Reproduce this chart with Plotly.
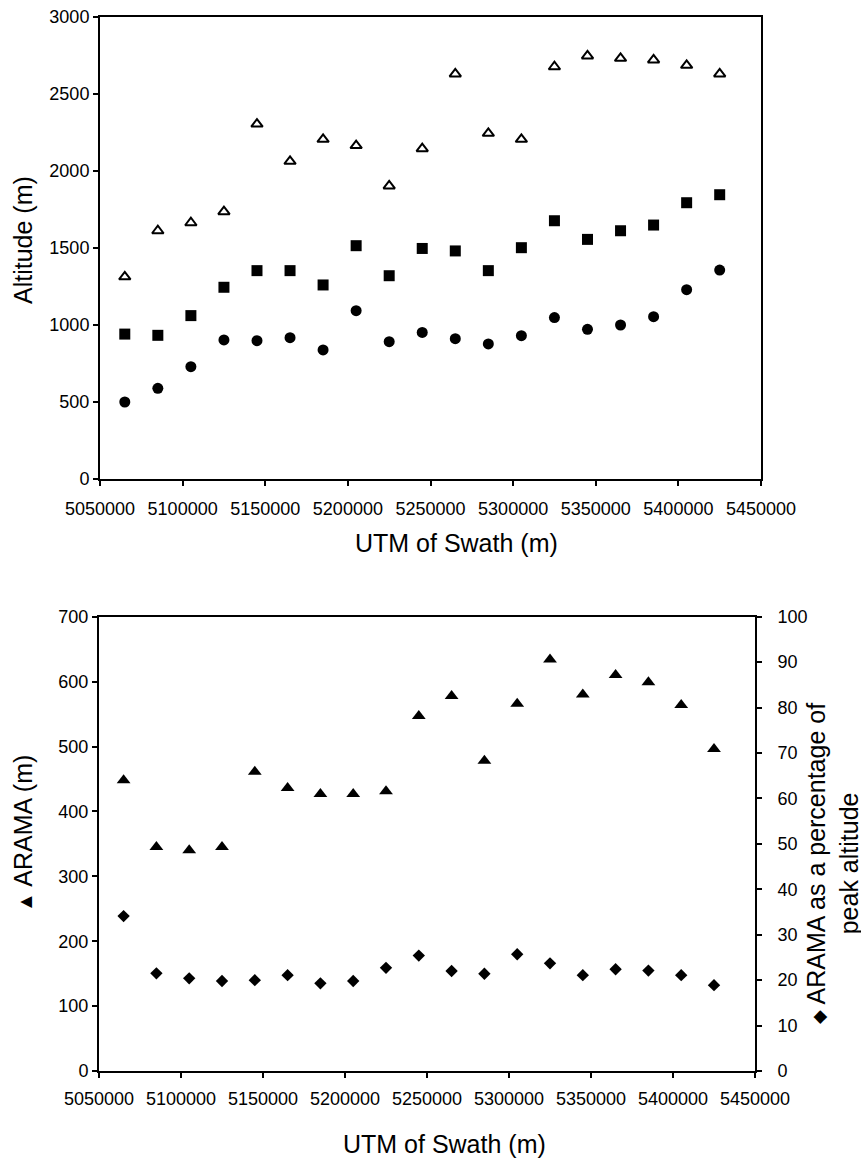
import plotly.graph_objects as go

# Swath centre positions (UTM northing, m)
utm = [5065000, 5085000, 5105000, 5125000, 5145000, 5165000, 5185000,
       5205000, 5225000, 5245000, 5265000, 5285000, 5305000, 5325000,
       5345000, 5365000, 5385000, 5405000, 5425000]

# Altitudes per swath (m)
peak_alt = [1313, 1612, 1664, 1736, 2305, 2063, 2206, 2165, 1903, 2145,
            2630, 2245, 2206, 2677, 2747, 2732, 2721, 2686, 2630]
mean_alt = [941, 933, 1061, 1245, 1353, 1353, 1260, 1515, 1320, 1497,
            1481, 1353, 1502, 1677, 1556, 1612, 1649, 1794, 1846]
min_alt = [500, 589, 729, 903, 898, 918, 838, 1093, 892, 952,
           911, 877, 931, 1048, 972, 1000, 1054, 1229, 1357]

# ARAMA (m) and ARAMA as % of peak altitude
arama = [448, 345, 340, 345, 461, 436, 427, 427, 431, 547,
         578, 478, 566, 634, 580, 610, 599, 564, 496]
arama_pct = [34.1, 21.5, 20.4, 19.8, 20.0, 21.1, 19.3, 19.8, 22.7, 25.4,
             22.0, 21.4, 25.7, 23.7, 21.1, 22.4, 22.1, 21.1, 18.9]

x_ticks = [5050000, 5100000, 5150000, 5200000, 5250000,
           5300000, 5350000, 5400000, 5450000]

W, H = 861, 1159
FONT = "Liberation Sans, Arial, Helvetica, sans-serif"
BLACK = "#000000"


def px_x(p):
    return p / W


def px_y(p):
    return 1 - p / H


fig = go.Figure()

# Upper panel: altitudes
fig.add_trace(go.Scatter(x=utm, y=peak_alt, mode="markers", xaxis="x", yaxis="y",
                         marker=dict(symbol="triangle-up-open", size=10, color=BLACK,
                                     line=dict(width=2, color=BLACK))))
fig.add_trace(go.Scatter(x=utm, y=mean_alt, mode="markers", xaxis="x", yaxis="y",
                         marker=dict(symbol="square", size=11, color=BLACK, line=dict(width=0))))
fig.add_trace(go.Scatter(x=utm, y=min_alt, mode="markers", xaxis="x", yaxis="y",
                         marker=dict(symbol="circle", size=11, color=BLACK, line=dict(width=0))))

# Lower panel: ARAMA and relative ARAMA
fig.add_trace(go.Scatter(x=utm, y=arama, mode="markers", xaxis="x2", yaxis="y2",
                         marker=dict(symbol="triangle-up", size=12, color=BLACK, line=dict(width=0))))
fig.add_trace(go.Scatter(x=utm, y=arama_pct, mode="markers", xaxis="x2", yaxis="y3",
                         marker=dict(symbol="diamond", size=9.5, color=BLACK, line=dict(width=0))))

tickfont = dict(family=FONT, size=18, color=BLACK)
axis_common = dict(showgrid=False, zeroline=False, showline=True, linecolor=BLACK,
                   linewidth=2, ticks="outside", ticklen=5, tickwidth=2,
                   tickcolor=BLACK, tickfont=tickfont, automargin=False)

fig.update_layout(
    width=W, height=H,
    margin=dict(l=0, r=0, t=0, b=0, autoexpand=False),
    paper_bgcolor="white", plot_bgcolor="white",
    showlegend=False,
    font=dict(family=FONT, color=BLACK),
    xaxis=dict(domain=[px_x(100), px_x(761)], anchor="y", range=[5050000, 5450000],
               tickvals=x_ticks, tickformat="d", mirror=True, ticklabelstandoff=7,
               **axis_common),
    yaxis=dict(domain=[px_y(479), px_y(17)], anchor="x", range=[0, 3000],
               dtick=500, mirror=True, **axis_common),
    xaxis2=dict(domain=[px_x(99), px_x(755)], anchor="y2", range=[5050000, 5450000],
                tickvals=x_ticks, tickformat="d", mirror=True, ticklabelstandoff=5,
                **axis_common),
    yaxis2=dict(domain=[px_y(1071), px_y(616.7)], anchor="x2", range=[0, 700],
                dtick=100, **axis_common),
    yaxis3=dict(anchor="x2", overlaying="y2", side="right", range=[0, 100],
                dtick=10, ticklabelstandoff=12, **axis_common),
    # inner half of the crossing ticks on the right-hand axis
    yaxis4=dict(anchor="x2", overlaying="y2", side="right", range=[0, 100],
                dtick=10, showgrid=False, zeroline=False, showline=False,
                ticks="inside", ticklen=5, tickwidth=2, tickcolor=BLACK,
                showticklabels=False, automargin=False),
)

title_font = dict(family=FONT, size=25, color=BLACK)
annotations = [
    dict(text="Altitude (m)", x=px_x(23), y=px_y(240), textangle=-90),
    dict(text="UTM of Swath (m)", x=px_x(456), y=px_y(543), textangle=0),
    dict(text="UTM of Swath (m)", x=px_x(444), y=px_y(1144), textangle=0),
    dict(text='<span style="font-size:20px">▲</span> ARAMA (m)',
         x=px_x(23), y=px_y(834), textangle=-90),
    dict(text='<span style="font-size:18px">◆</span> ARAMA as a percentage of<br>peak altitude',
         x=px_x(832), y=px_y(864), textangle=-90),
]
for a in annotations:
    fig.add_annotation(xref="paper", yref="paper", showarrow=False,
                       xanchor="center", yanchor="middle", font=title_font, **a)

fig.write_html("out.html")
